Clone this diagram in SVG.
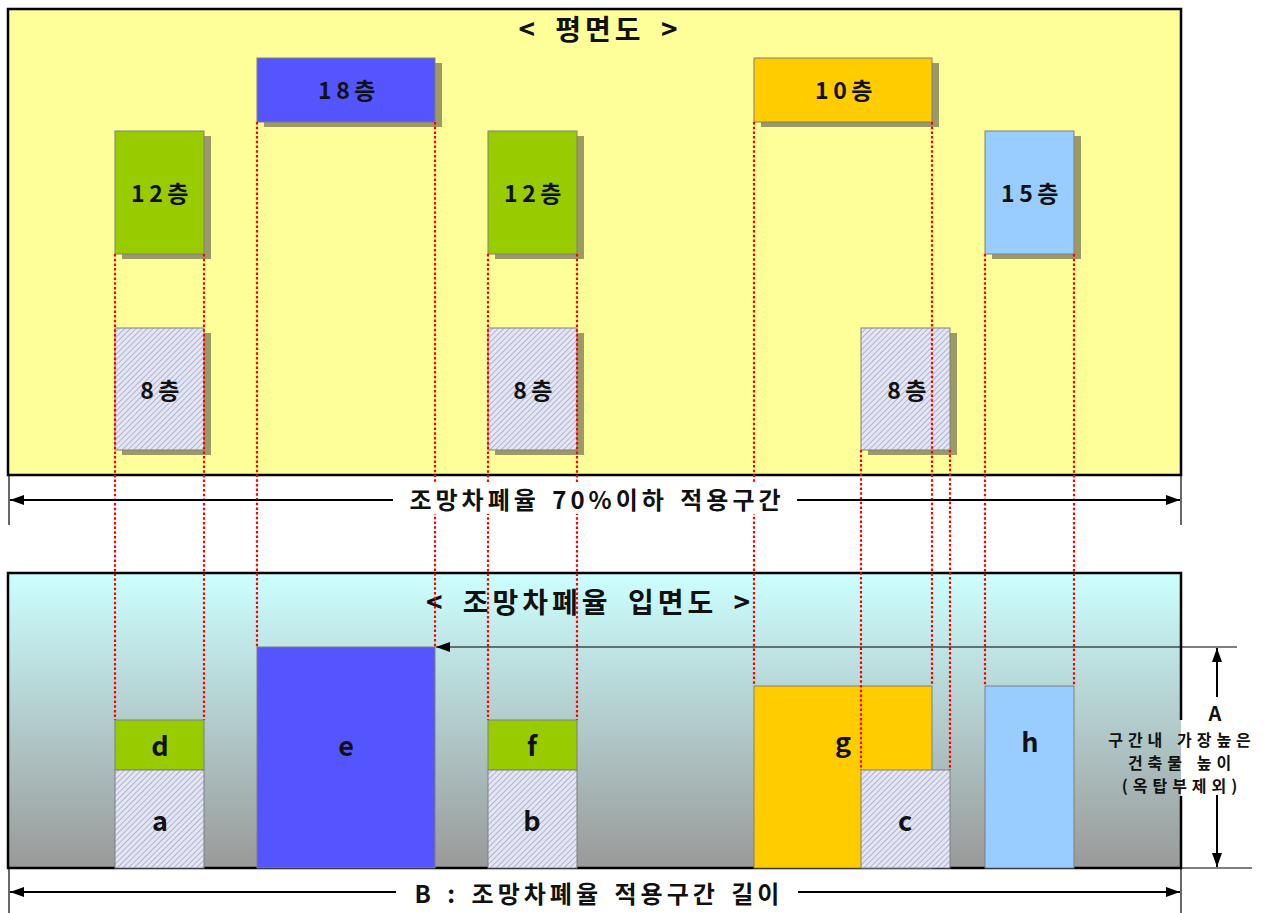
<svg xmlns="http://www.w3.org/2000/svg" width="1283" height="913" viewBox="0 0 1283 913">
<defs>
  <linearGradient id="elevGrad" x1="0" y1="0" x2="0" y2="1">
    <stop offset="0" stop-color="#CCFFFF"/>
    <stop offset="1" stop-color="#999999"/>
  </linearGradient>
  <pattern id="hatch" width="4" height="4" patternUnits="userSpaceOnUse" patternTransform="rotate(45)">
    <rect width="4" height="4" fill="#E4E6F4"/>
    <line x1="0" y1="0" x2="0" y2="4" stroke="#8C90B8" stroke-width="1.2"/>
  </pattern>
  <marker id="ah" viewBox="0 0 14 10" refX="14" refY="5" markerWidth="14" markerHeight="10" markerUnits="userSpaceOnUse" orient="auto-start-reverse">
    <path d="M0,0 L14,5 L0,10 Z" fill="#000"/>
  </marker>
  <style>
    .panel{stroke:#000;stroke-width:2.5}
    .shadow{fill:#9C9A64}
    .bx{stroke:#7F7F7F;stroke-width:1}
    .blue{fill:#5555FF}
    .yellow{fill:#FFCC00}
    .green{fill:#99CC00}
    .lblue{fill:#99CCFF}
    .hat{fill:url(#hatch)}
    .lbl{font-family:"Noto Sans CJK KR","Noto Sans",sans-serif;font-weight:700;font-size:23px;letter-spacing:4.5px;fill:#111;text-anchor:middle;dominant-baseline:central}
    .let{font-family:"Noto Sans CJK KR","Noto Sans",sans-serif;font-weight:700;font-size:27px;fill:#111;text-anchor:middle;dominant-baseline:central}
    .ttl{font-family:"Noto Sans CJK KR","Noto Sans",sans-serif;font-weight:700;font-size:28px;letter-spacing:4px;word-spacing:6px;fill:#111;text-anchor:middle;dominant-baseline:central}
    .dim{font-family:"Noto Sans CJK KR","Noto Sans",sans-serif;font-weight:700;font-size:24px;letter-spacing:4px;word-spacing:3px;fill:#111;text-anchor:middle;dominant-baseline:central}
    .big{font-family:"Noto Sans CJK KR","Noto Sans",sans-serif;font-weight:700;font-size:20px;fill:#111;text-anchor:middle;dominant-baseline:central}
    .note{font-family:"Noto Sans CJK KR","Noto Sans",sans-serif;font-weight:700;font-size:16px;letter-spacing:5px;word-spacing:1px;fill:#111;text-anchor:middle;dominant-baseline:central}
    .red{stroke:#FF0000;stroke-width:2.2;stroke-dasharray:2.5 2.2;fill:none}
    .ln{stroke:#000;stroke-width:2;fill:none}
    .thin{stroke:#000;stroke-width:1.2;fill:none}
  </style>
</defs>

<!-- Plan panel -->
<g id="plan-panel">
  <rect class="panel" x="8" y="9" width="1173" height="466" fill="#FFFF99"/>
  <text class="ttl" x="600" y="28">&lt; 평면도 &gt;</text>
</g>

<g id="plan-18">
  <rect class="shadow" x="264" y="63" width="178" height="64"/>
  <rect class="bx blue" x="257" y="58" width="178" height="64"/>
  <text class="lbl" x="349" y="89">18층</text>
</g>
<g id="plan-10">
  <rect class="shadow" x="761" y="63" width="178" height="64"/>
  <rect class="bx yellow" x="754" y="58" width="178" height="64"/>
  <text class="lbl" x="846" y="89">10층</text>
</g>
<g id="plan-12a">
  <rect class="shadow" x="122" y="136" width="89" height="123"/>
  <rect class="bx green" x="115" y="131" width="89" height="123"/>
  <text class="lbl" x="162" y="192">12층</text>
</g>
<g id="plan-12b">
  <rect class="shadow" x="495" y="136" width="89" height="123"/>
  <rect class="bx green" x="488" y="131" width="89" height="123"/>
  <text class="lbl" x="535" y="192">12층</text>
</g>
<g id="plan-15">
  <rect class="shadow" x="992" y="136" width="89" height="123"/>
  <rect class="bx lblue" x="985" y="131" width="89" height="123"/>
  <text class="lbl" x="1032" y="192">15층</text>
</g>
<g id="plan-8a">
  <rect class="shadow" x="122" y="333" width="89" height="122"/>
  <rect class="bx hat" x="115" y="328" width="89" height="122"/>
  <text class="lbl" x="162" y="389">8층</text>
</g>
<g id="plan-8b">
  <rect class="shadow" x="495" y="333" width="89" height="122"/>
  <rect class="bx hat" x="488" y="328" width="89" height="122"/>
  <text class="lbl" x="535" y="389">8층</text>
</g>
<g id="plan-8c">
  <rect class="shadow" x="868" y="333" width="89" height="122"/>
  <rect class="bx hat" x="861" y="328" width="89" height="122"/>
  <text class="lbl" x="909" y="389">8층</text>
</g>

<!-- Elevation panel -->
<g id="elev-panel">
  <rect x="8" y="573" width="1173" height="295" fill="url(#elevGrad)"/>
  <path class="panel" fill="none" d="M1181,720 L1181,573 L8,573 L8,868 L1181,868 L1181,796"/>
  <text class="ttl" x="590" y="601">&lt; 조망차폐율 입면도 &gt;</text>
</g>

<g id="elev-e">
  <rect class="bx blue" x="257" y="647" width="178" height="221"/>
  <text class="let" x="346" y="744">e</text>
</g>
<g id="elev-g">
  <rect class="bx yellow" x="754" y="686" width="178" height="182"/>
  <text class="let" x="843" y="740">g</text>
</g>
<g id="elev-h">
  <rect class="bx lblue" x="985" y="686" width="89" height="182"/>
  <text class="let" x="1030" y="740">h</text>
</g>
<g id="elev-d">
  <rect class="bx green" x="115" y="720" width="89" height="50"/>
  <text class="let" x="160" y="744">d</text>
</g>
<g id="elev-a">
  <rect class="bx hat" x="115" y="770" width="89" height="98"/>
  <text class="let" x="160" y="819">a</text>
</g>
<g id="elev-f">
  <rect class="bx green" x="488" y="720" width="89" height="50"/>
  <text class="let" x="532" y="744">f</text>
</g>
<g id="elev-b">
  <rect class="bx hat" x="488" y="770" width="89" height="98"/>
  <text class="let" x="532" y="819">b</text>
</g>
<g id="elev-c">
  <rect class="bx hat" x="861" y="770" width="89" height="98"/>
  <text class="let" x="905" y="819">c</text>
</g>

<!-- Connectors -->
<g id="connectors">
  <!-- red projection lines -->
  <line class="red" x1="115" y1="254" x2="115" y2="720"/>
  <line class="red" x1="204" y1="254" x2="204" y2="720"/>
  <line class="red" x1="257" y1="122" x2="257" y2="647"/>
  <line class="red" x1="435" y1="122" x2="435" y2="647"/>
  <line class="red" x1="488" y1="254" x2="488" y2="720"/>
  <line class="red" x1="577" y1="254" x2="577" y2="720"/>
  <line class="red" x1="754" y1="122" x2="754" y2="686"/>
  <line class="red" x1="932" y1="122" x2="932" y2="686"/>
  <line class="red" x1="861" y1="450" x2="861" y2="770"/>
  <line class="red" x1="950" y1="450" x2="950" y2="770"/>
  <line class="red" x1="985" y1="254" x2="985" y2="686"/>
  <line class="red" x1="1074" y1="254" x2="1074" y2="686"/>

  <!-- top dimension -->
  <line class="thin" x1="9" y1="475" x2="9" y2="525"/>
  <line class="thin" x1="1181" y1="475" x2="1181" y2="525"/>
  <line class="ln" x1="10" y1="500" x2="1180" y2="500" marker-start="url(#ah)" marker-end="url(#ah)"/>
  <rect x="393" y="483" width="404" height="31" fill="#FFFFFF"/>
  <text class="dim" x="597" y="498">조망차폐율 70%이하 적용구간</text>

  <!-- height reference -->
  <line class="thin" x1="1237" y1="647" x2="436" y2="647" marker-end="url(#ah)"/>
  <line class="thin" x1="1181" y1="868" x2="1252" y2="868"/>
  <line class="ln" x1="1217" y1="697" x2="1217" y2="648" marker-end="url(#ah)"/>
  <line class="ln" x1="1217" y1="795" x2="1217" y2="867" marker-end="url(#ah)"/>
  <text class="big" x="1215" y="712">A</text>
  <text class="note" x="1182" y="739">구간내 가장높은</text>
  <text class="note" x="1182" y="762">건축물 높이</text>
  <text class="note" x="1182" y="785">(옥탑부제외)</text>

  <!-- bottom dimension -->
  <line class="thin" x1="9" y1="868" x2="9" y2="913"/>
  <line class="thin" x1="1181" y1="868" x2="1181" y2="913"/>
  <line class="ln" x1="10" y1="892" x2="1180" y2="892" marker-start="url(#ah)" marker-end="url(#ah)"/>
  <rect x="396" y="877" width="402" height="31" fill="#FFFFFF"/>
  <text class="dim" x="599" y="892">B : 조망차폐율 적용구간 길이</text>
</g>
</svg>
